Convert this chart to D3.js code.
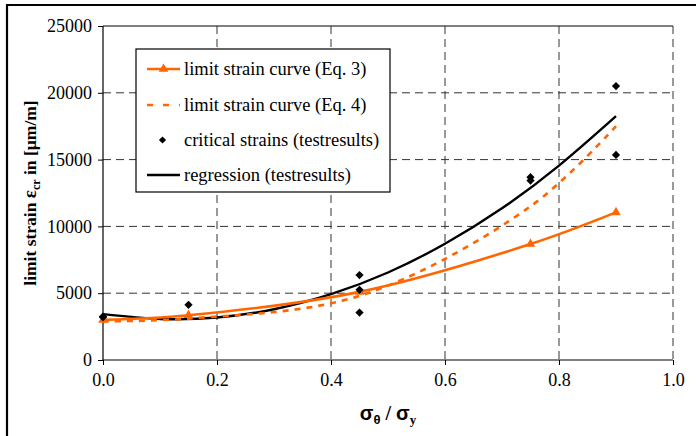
<!DOCTYPE html>
<html>
<head>
<meta charset="utf-8">
<script src="https://cdn.jsdelivr.net/npm/d3@7"></script>
<style>
  html, body { margin: 0; padding: 0; background: #fff; }
  svg { display: block; }
  text { font-family: "Liberation Serif", "Times New Roman", serif; }
</style>
</head>
<body>
<svg id="chart" width="696" height="436"></svg>
<script>
// ---- data ----
const xTicks = [0, 0.2, 0.4, 0.6, 0.8, 1.0];
const yTicks = [0, 5000, 10000, 15000, 20000, 25000];

const eq3X = [0, 0.15, 0.45, 0.75, 0.9];
const eq3Y = [3000, 3350, 5100, 8680, 11050];

const eq4X = [0, 0.15, 0.45, 0.75, 0.9];
const eq4Y = [2900, 3100, 4800, 11500, 17500];

const critX = [0, 0, 0.15, 0.45, 0.45, 0.45, 0.75, 0.75, 0.9, 0.9];
const critY = [3250, 3200, 4130, 6360, 5250, 3550, 13680, 13430, 20500, 15350];

const regX = [0, 0.1, 0.2, 0.3, 0.4, 0.5, 0.6, 0.7, 0.8, 0.9];
const regY = [3430, 3070, 3180, 3800, 4930, 6550, 8700, 11350, 14550, 18250];

const legendLabels = [
  "limit strain curve (Eq. 3)",
  "limit strain curve (Eq. 4)",
  "critical strains (testresults)",
  "regression (testresults)"
];

// ---- layout ----
const svg = d3.select("#chart");
const L = 103, R = 673, T = 26, B = 360;
const orange = "#FF6600";

const x = d3.scaleLinear().domain([0, 1]).range([L, R]);
const y = d3.scaleLinear().domain([0, 25000]).range([B, T]);

// outer border (cropped at right/bottom)
svg.append("path")
  .attr("d", `M7,440 L7,5 L700,5`)
  .attr("fill", "none").attr("stroke", "#000").attr("stroke-width", 2.2);

// gridlines
const grid = svg.append("g");
yTicks.filter(v => v > 0 && v < 25000).forEach(v => {
  grid.append("line")
    .attr("x1", L).attr("x2", R).attr("y1", y(v)).attr("y2", y(v))
    .attr("stroke", "#333").attr("stroke-width", 1).attr("stroke-dasharray", "8,5");
});
xTicks.filter(v => v > 0).forEach(v => {
  grid.append("line")
    .attr("x1", x(v)).attr("x2", x(v)).attr("y1", T).attr("y2", B)
    .attr("stroke", "#333").attr("stroke-width", 1).attr("stroke-dasharray", "8,5");
});
// top border
svg.append("line").attr("x1", L).attr("x2", R).attr("y1", T).attr("y2", T)
  .attr("stroke", "#000").attr("stroke-width", 1);

// axes
const xAxis = d3.axisBottom(x).tickValues(xTicks).tickFormat(d3.format(".1f")).tickSize(5).tickPadding(8);
const yAxis = d3.axisLeft(y).tickValues(yTicks).tickFormat(d3.format("d")).tickSize(5).tickPadding(6);

const gx = svg.append("g").attr("transform", `translate(0,${B})`).call(xAxis);
const gy = svg.append("g").attr("transform", `translate(${L},0)`).call(yAxis);
[gx, gy].forEach(g => {
  g.select(".domain").attr("stroke", "#000").attr("stroke-width", 1.2);
  g.selectAll(".tick line").attr("stroke", "#000").attr("stroke-width", 1);
  g.selectAll(".tick text").attr("fill", "#000")
    .style("font-family", '"Liberation Serif", serif').style("font-size", "18px");
});
gx.select(".domain").attr("d", `M${L},0H${R}`);
gy.select(".domain").attr("d", `M0,${B}V${T}`);

// series
const plot = svg.append("g");
const line = (curve) => d3.line().x(d => x(d[0])).y(d => y(d[1])).curve(curve);

// regression
plot.append("path")
  .datum(regX.map((v, i) => [v, regY[i]]))
  .attr("d", line(d3.curveNatural))
  .attr("fill", "none").attr("stroke", "#000").attr("stroke-width", 2.4);

// Eq 4 dashed
plot.append("path")
  .datum(eq4X.map((v, i) => [v, eq4Y[i]]))
  .attr("d", line(d3.curveCatmullRom.alpha(0.5)))
  .attr("fill", "none").attr("stroke", orange).attr("stroke-width", 2.6)
  .attr("stroke-dasharray", "6,6");

// Eq 3 solid + triangles
plot.append("path")
  .datum(eq3X.map((v, i) => [v, eq3Y[i]]))
  .attr("d", line(d3.curveCatmullRom.alpha(0.5)))
  .attr("fill", "none").attr("stroke", orange).attr("stroke-width", 2.6);
plot.selectAll(".tri").data(eq3X.map((v, i) => [v, eq3Y[i]])).enter()
  .append("path")
  .attr("transform", d => `translate(${x(d[0])},${y(d[1])})`)
  .attr("d", d3.symbol(d3.symbolTriangle, 40))
  .attr("fill", orange);

// critical strains diamonds
const diamond = d3.symbol(d3.symbolSquare, 34);
plot.selectAll(".dia").data(critX.map((v, i) => [v, critY[i]])).enter()
  .append("path")
  .attr("transform", d => `translate(${x(d[0])},${y(d[1])}) rotate(45)`)
  .attr("d", diamond)
  .attr("fill", "#000");

// legend
const lg = svg.append("g");
const lx = 136, ly = 49, lw = 254, lh = 143;
lg.append("rect").attr("x", lx).attr("y", ly).attr("width", lw).attr("height", lh)
  .attr("fill", "#fff").attr("stroke", "#000").attr("stroke-width", 1.2);
const rowY = [69, 105, 140, 175];
const sx1 = 147, sx2 = 180;
// row 0
lg.append("line").attr("x1", sx1).attr("x2", sx2).attr("y1", rowY[0]).attr("y2", rowY[0])
  .attr("stroke", orange).attr("stroke-width", 2.6);
lg.append("path").attr("transform", `translate(${(sx1 + sx2) / 2},${rowY[0]})`)
  .attr("d", d3.symbol(d3.symbolTriangle, 40)).attr("fill", orange);
// row 1
lg.append("line").attr("x1", sx1).attr("x2", sx2).attr("y1", rowY[1]).attr("y2", rowY[1])
  .attr("stroke", orange).attr("stroke-width", 2.6).attr("stroke-dasharray", "6,10");
// row 2
lg.append("path").attr("transform", `translate(${(sx1 + sx2) / 2 - 1},${rowY[2]}) rotate(45)`)
  .attr("d", d3.symbol(d3.symbolSquare, 26)).attr("fill", "#000");
// row 3
lg.append("line").attr("x1", sx1).attr("x2", sx2).attr("y1", rowY[3]).attr("y2", rowY[3])
  .attr("stroke", "#000").attr("stroke-width", 2.4);
legendLabels.forEach((t, i) => {
  lg.append("text").attr("x", 184).attr("y", rowY[i]).attr("dy", "0.33em")
    .style("font-size", "18.5px").attr("fill", "#000").text(t);
});

// y axis title
const yt = svg.append("text")
  .attr("transform", `translate(36,${(T + B) / 2}) rotate(-90)`)
  .attr("text-anchor", "middle")
  .style("font-size", "17.5px").style("font-weight", "bold").attr("fill", "#000");
yt.append("tspan").text("limit strain ");
yt.append("tspan").style("font-size", "19px").text("ε");
yt.append("tspan").attr("dy", 4).style("font-size", "12px").text("cr");
yt.append("tspan").attr("dy", -4).text(" in [µm/m]");

// x axis title
const xt = svg.append("text")
  .attr("x", (L + R) / 2).attr("y", 420)
  .attr("text-anchor", "middle")
  .style("font-family", '"Liberation Sans", Arial, sans-serif')
  .style("font-size", "20px").style("font-weight", "bold").attr("fill", "#000");
xt.append("tspan").text("σ");
xt.append("tspan").attr("dy", 4).style("font-size", "13px").text("θ");
xt.append("tspan").attr("dy", -4).style("font-family", '"Liberation Serif", serif').text(" / ");
xt.append("tspan").text("σ");
xt.append("tspan").attr("dy", 4).style("font-size", "13px").style("font-family", '"Liberation Serif", serif').text("y");
</script>
</body>
</html>
